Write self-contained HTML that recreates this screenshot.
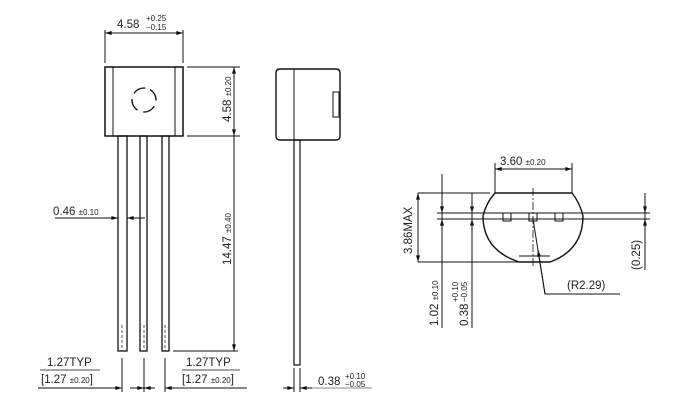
<!DOCTYPE html>
<html><head><meta charset="utf-8"><style>
html,body{margin:0;padding:0;background:#fff;width:680px;height:420px;overflow:hidden}
svg{display:block}
text{font-family:"Liberation Sans",sans-serif;fill:#222}
</style></head><body>
<svg width="680" height="420" viewBox="0 0 680 420" xmlns="http://www.w3.org/2000/svg">
<defs>
<marker id="a" viewBox="0 0 10 6" refX="10" refY="3" markerWidth="8" markerHeight="4" orient="auto-start-reverse" markerUnits="userSpaceOnUse"><path d="M0,0 L10,3 L0,6z" fill="#111"/></marker>
</defs>
<g stroke="#111" stroke-width="1" fill="none">
<rect x="105" y="67" width="78" height="69" stroke-width="1.5"/>
<line x1="113" y1="67" x2="113" y2="136"/><line x1="175" y1="67" x2="175" y2="136"/>
<circle cx="144" cy="100" r="12" stroke-width="1.3" stroke-dasharray="13,6" transform="rotate(-60 144 100)"/>
<rect x="118" y="136" width="9" height="215" stroke-width="1.3"/>
<rect x="140" y="136" width="7" height="215" stroke-width="1.3"/>
<rect x="162" y="136" width="7" height="215" stroke-width="1.3"/>
<g stroke-dasharray="3,2" stroke-width="0.7">
<line x1="122" y1="325" x2="122" y2="351"/><line x1="144" y1="325" x2="144" y2="351"/><line x1="165" y1="325" x2="165" y2="351"/>
</g>
<line x1="105" y1="30" x2="105" y2="63"/><line x1="183" y1="30" x2="183" y2="63"/>
<line x1="105" y1="33" x2="183" y2="33" marker-start="url(#a)" marker-end="url(#a)"/>
<line x1="187" y1="67" x2="240" y2="67"/><line x1="187" y1="136" x2="240" y2="136"/>
<line x1="234" y1="67" x2="234" y2="136" marker-start="url(#a)" marker-end="url(#a)"/>
<line x1="234" y1="136" x2="234" y2="351" marker-end="url(#a)"/>
<line x1="173" y1="351" x2="238" y2="351"/>
<line x1="55" y1="218" x2="118" y2="218" marker-end="url(#a)"/>
<line x1="145" y1="218" x2="127" y2="218" marker-end="url(#a)"/>
<line x1="122" y1="358" x2="122" y2="392"/><line x1="144" y1="358" x2="144" y2="392"/><line x1="165" y1="358" x2="165" y2="392"/>
<line x1="38" y1="388" x2="122" y2="388" marker-end="url(#a)"/>
<line x1="130" y1="388" x2="144" y2="388" marker-end="url(#a)"/>
<line x1="155" y1="388" x2="144" y2="388" marker-end="url(#a)"/>
<line x1="247" y1="388" x2="165" y2="388" marker-end="url(#a)"/>
<line x1="40" y1="370" x2="100" y2="370" stroke-width="0.7"/>
<line x1="182" y1="370" x2="240" y2="370" stroke-width="0.7"/>
<path d="M280,69 H336 Q340,69 340,73 V136 Q340,140 336,140 H280 Q276,140 276,136 V73 Q276,69 280,69Z" stroke-width="1.4"/>
<line x1="294" y1="69" x2="294" y2="140"/>
<rect x="333" y="92" width="6" height="25"/>
<rect x="294" y="140" width="6" height="225" stroke-width="1.2"/>
<line x1="294" y1="368" x2="294" y2="392"/><line x1="300" y1="368" x2="300" y2="392"/>
<line x1="283" y1="388" x2="294" y2="388" marker-end="url(#a)"/>
<line x1="312" y1="388" x2="300" y2="388" marker-end="url(#a)"/>
<line x1="312" y1="388" x2="372" y2="388" stroke="#888"/>
<line x1="495" y1="163" x2="495" y2="193"/><line x1="572" y1="163" x2="572" y2="193"/>
<line x1="495" y1="169" x2="572" y2="169" marker-start="url(#a)" marker-end="url(#a)"/>
<path d="M495,193 H572 Q580,203 583,216 Q583,250 550,262 H519 Q483,250 483,216 Q486,203 495,193Z" stroke-width="1.4"/>
<line x1="519" y1="256" x2="550" y2="256"/>
<line x1="437" y1="213" x2="650" y2="213"/><line x1="437" y1="219" x2="650" y2="219"/>
<path d="M503,213 V221 H511 V213 M529,213 V221 H537 V213 M555,213 V221 H563 V213"/>
<line x1="533" y1="188" x2="533" y2="267" stroke-dasharray="8,2,2,2" stroke-width="0.8"/>
<line x1="418" y1="193" x2="490" y2="193"/><line x1="418" y1="262" x2="530" y2="262"/>
<line x1="418" y1="193" x2="418" y2="262" marker-start="url(#a)" marker-end="url(#a)"/>
<line x1="442" y1="174" x2="442" y2="328"/>
<line x1="442" y1="178" x2="442" y2="213" marker-end="url(#a)"/>
<line x1="442" y1="240" x2="442" y2="219" marker-end="url(#a)"/>
<line x1="472" y1="193" x2="472" y2="328"/>
<line x1="472" y1="200" x2="472" y2="213" marker-end="url(#a)"/>
<line x1="472" y1="232" x2="472" y2="219" marker-end="url(#a)"/>
<line x1="645" y1="193" x2="645" y2="270"/>
<line x1="645" y1="196" x2="645" y2="213" marker-end="url(#a)"/>
<line x1="645" y1="236" x2="645" y2="219" marker-end="url(#a)"/>
<polyline points="533,219 545,294 620,294"/>
<line x1="538" y1="250" x2="545" y2="294" marker-start="url(#a)"/>
</g>
<g font-size="11.5">
<text x="117" y="28">4.58</text>
<text x="146" y="21" font-size="8">+0.25</text>
<text x="146" y="30" font-size="8">−0.15</text>
<text transform="translate(231,122) rotate(-90)">4.58 <tspan font-size="8">±0.20</tspan></text>
<text transform="translate(231,265) rotate(-90)">14.47 <tspan font-size="8">±0.40</tspan></text>
<text x="53" y="215">0.46 <tspan font-size="8">±0.10</tspan></text>
<text x="47" y="366">1.27TYP</text>
<text x="41" y="383">[1.27 <tspan font-size="8">±0.20</tspan>]</text>
<text x="186" y="366">1.27TYP</text>
<text x="182" y="383">[1.27 <tspan font-size="8">±0.20</tspan>]</text>
<text x="318" y="385">0.38</text>
<text x="345" y="379" font-size="8">+0.10</text>
<text x="345" y="387" font-size="8">−0.05</text>
<text x="500" y="165">3.60 <tspan font-size="8">±0.20</tspan></text>
<text transform="translate(412,254) rotate(-90)">3.86MAX</text>
<text transform="translate(438,326) rotate(-90)">1.02 <tspan font-size="8">±0.10</tspan></text>
<text transform="translate(468,326) rotate(-90)">0.38</text>
<text transform="translate(458,302) rotate(-90)" font-size="8">+0.10</text>
<text transform="translate(467,302) rotate(-90)" font-size="8">−0.05</text>
<text transform="translate(640,270) rotate(-90)">(0.25)</text>
<text x="567" y="289">(R2.29)</text>
</g>
</svg>
</body></html>
